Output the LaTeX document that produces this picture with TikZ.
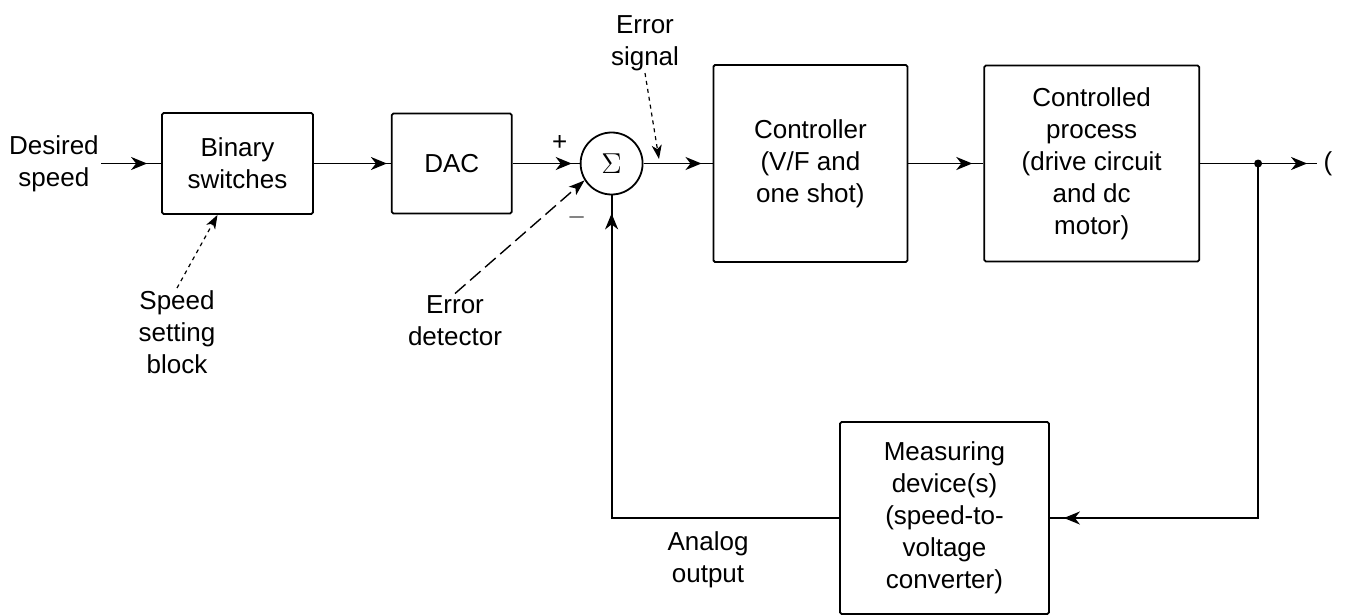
\documentclass[tikz,border=0pt]{standalone}
\usepackage{fontspec}
\setmainfont{Liberation Sans}
\usetikzlibrary{arrows.meta,positioning,decorations.markings}
\tikzset{
  block/.style={draw, line width=0.9pt, rounded corners=0.8pt, align=center, inner sep=2pt},
  sumnode/.style={draw, circle, line width=0.9pt, minimum size=31pt, inner sep=0pt},
  lbl/.style={align=center, inner sep=1pt},
  flow/.style={line width=0.9pt, postaction={decorate},
    decoration={markings, mark=at position -#1 with {\arrow{Stealth[length=8pt,width=6.5pt,inset=2.5pt]}}}},
  flow/.default=5pt,
  note/.style={line width=0.6pt, dash pattern=on 2pt off 2pt, -{Stealth[length=7pt,width=5pt,inset=2pt]}},
  longnote/.style={line width=0.7pt, dash pattern=on 7pt off 3pt, -{Stealth[length=8pt,width=5.5pt,inset=2pt]}},
}

\begin{document}
\begin{tikzpicture}[x=0.5pt, y=-0.5pt, font=\fontsize{13}{16}\selectfont]
  \useasboundingbox (0,0) rectangle (1346,616);

  % forward path
  \node[block, minimum width=75.5pt, minimum height=50.5pt] (bin) at (237.5,163.5) {Binary\\switches};
  \node[block, right=38.5pt of bin, minimum width=60pt, minimum height=50pt] (dac) {DAC};
  \node[sumnode, right=33.5pt of dac] (sum) {\Large$\Sigma$};
  \node[block, right=34.5pt of sum, minimum width=97pt, minimum height=98.5pt] (ctrl) {Controller\\(V/F and\\one shot)};
  \node[block, right=37.5pt of ctrl, minimum width=107.5pt, minimum height=98pt] (proc) {Controlled\\process\\(drive circuit\\and dc\\motor)};

  % feedback block
  \node[block, minimum width=104.5pt, minimum height=96pt] (meas) at (944.5,518) {Measuring\\device(s)\\(speed-to-\\voltage\\converter)};

  % labels
  \node[lbl, left=30pt of bin] (desired) {Desired\\speed};
  \node[lbl] (esig) at (645,43) {Error\\signal};
  \node[lbl] (speedset) at (177,332) {Speed\\setting\\block};
  \node[lbl] (edet) at (455,321) {Error\\detector};
  \node[lbl] (analog) at (708,560) {Analog\\output};
  \node[inner sep=0pt] (plus) at ([shift={(-26pt,10.5pt)}]sum) {+};
  \node[inner sep=0pt] (minus) at ([shift={(-17.5pt,-27pt)}]sum) {$-$};

  % signal lines
  \draw[flow=7pt] (desired) -- (bin);
  \draw[flow=2pt] (bin) -- (dac);
  \draw[flow=4pt] (dac) -- (sum);
  \draw[flow=5.5pt] (sum) -- (ctrl);
  \draw[flow=5.5pt] (ctrl) -- (proc);

  % output and take-off point
  \coordinate[right=29pt of proc] (tap);
  \coordinate[right=29.5pt of tap] (yend);
  \draw[flow=5pt] (proc) -- (yend);
  \fill (tap) circle[radius=2pt];
  \node[right=3pt of yend, inner sep=0pt] (yout) {(};

  % feedback loop
  \draw[flow=7pt] (tap) |- (meas);
  \draw[flow=9pt] (meas) -| (sum);

  % pointers
  \coordinate (esigtip) at (659,159);
  \draw[note] (esig.south) -- (esigtip);
  \draw[note] (speedset.north) -- ([xshift=-10pt]bin.south);
  \draw[longnote] (edet.north) -- (sum.212);
\end{tikzpicture}
\end{document}
